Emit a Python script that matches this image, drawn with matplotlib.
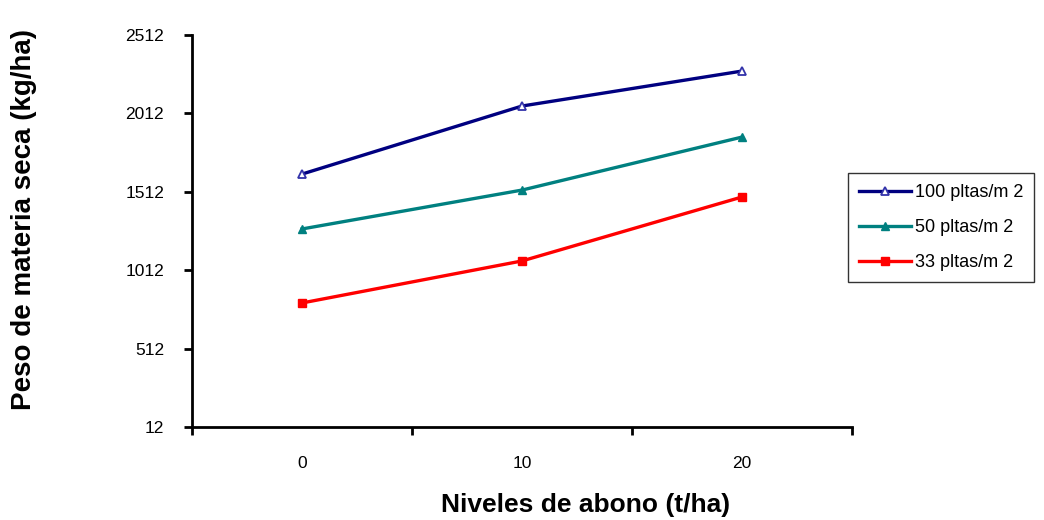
import matplotlib
matplotlib.use("Agg")
import matplotlib.pyplot as plt

plt.rcParams['font.family'] = ['Liberation Sans', 'DejaVu Sans']

niveles = ['0', '10', '20']
serie_100 = [1625, 2059, 2282]
serie_50 = [1275, 1523, 1861]
serie_33 = [803, 1071, 1479]
etiquetas = ['100 pltas/m 2', '50 pltas/m 2', '33 pltas/m 2']
yticks = [12, 512, 1012, 1512, 2012, 2512]

fig = plt.figure(figsize=(10.44, 5.2), dpi=100)
ax = fig.add_axes([192 / 1044, 1 - 427 / 520, 660 / 1044, 392 / 520])

x = list(range(len(niveles)))
ax.plot(x, serie_100, color='#000080', lw=2.4, marker='^', ms=6,
        mfc='white', mec='#3333aa', mew=1.3, label=etiquetas[0])
ax.plot(x, serie_50, color='#008080', lw=2.4, marker='^', ms=6,
        mfc='#008080', mec='#008080', label=etiquetas[1])
ax.plot(x, serie_33, color='#ff0000', lw=2.4, marker='s', ms=6,
        mfc='#ff0000', mec='#ff0000', label=etiquetas[2])

ax.set_xlim(-0.5, 2.5)
ax.set_ylim(12, 2512)
ax.set_yticks(yticks)
ax.set_yticklabels([str(v) for v in yticks], fontsize=12.5)
ax.set_xticks(x)
ax.set_xticklabels(niveles, fontsize=12.5)
ax.set_xticks([-0.5, 0.5, 1.5, 2.5], minor=True)
ax.tick_params(axis='x', which='major', length=0, pad=21)
ax.tick_params(axis='x', which='minor', length=6, width=2, direction='out')
ax.tick_params(axis='y', length=6, width=2, direction='out', pad=14)

for s in ['top', 'right']:
    ax.spines[s].set_visible(False)
for s in ['left', 'bottom']:
    ax.spines[s].set_linewidth(2)
ax.spines['left'].set_bounds(12, 2512)

# títulos de los ejes
fig.text(586 / 1044, 1 - 505 / 520, 'Niveles de abono (t/ha)',
         fontsize=19, fontweight='bold', ha='center', va='center')
fig.text(24 / 1044, 1 - 220 / 520, 'Peso de materia seca (kg/ha)', rotation=90,
         fontsize=20, fontweight='bold', ha='center', va='center')

leg = ax.legend(loc='upper left', bbox_to_anchor=(848 / 1044, 1 - 173 / 520),
                bbox_transform=fig.transFigure, fontsize=13, frameon=True,
                fancybox=False, edgecolor='black', handlelength=2.9,
                handletextpad=0.2, borderpad=0.6, labelspacing=1.0,
                borderaxespad=0)
leg.get_frame().set_linewidth(1)

fig.savefig('out.png', dpi=100)
